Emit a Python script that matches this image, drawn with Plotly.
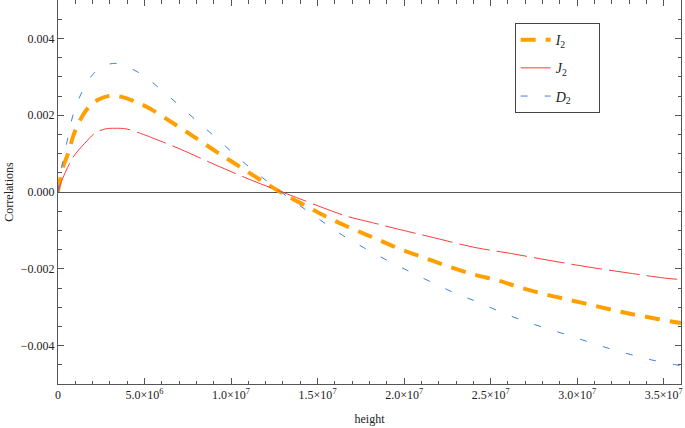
import plotly.graph_objects as go

# values
x_I2 = [0, 0.05e6, 0.3e6, 0.59e6, 0.97e6, 1.65e6, 2.32e6, 3.1e6, 3.97e6, 4.45e6, 5.12e6,
        6.66e6, 8.02e6, 9.18e6, 10.43e6, 11.68e6, 12.94e6, 14.29e6, 15.64e6, 16.99e6,
        18.34e6, 19.69e6, 21.14e6, 22.5e6, 24.04e6, 25.39e6, 26.74e6, 28.19e6, 29.64e6,
        31.08e6, 32.53e6, 33.98e6, 35.81e6, 36.0e6]
I2 = [0, 0.000145, 0.000665, 0.00101, 0.00157, 0.00214, 0.0024, 0.00251, 0.00244, 0.00235,
      0.00222, 0.00179, 0.00139, 0.00104, 0.00068, 0.00032, -0.000026, -0.000356, -0.000675,
      -0.000953, -0.00121, -0.00147, -0.00171, -0.00193, -0.00215, -0.0023, -0.00249,
      -0.00267, -0.00282, -0.00297, -0.00312, -0.00325, -0.0034, -0.00341]

x_J2 = [0, 0.2e6, 0.68e6, 0.97e6, 1.55e6, 2.13e6, 2.71e6, 3.29e6, 3.97e6, 4.93e6, 5.51e6,
        7.05e6, 9.08e6, 11.11e6, 12.84e6, 13.61e6, 15.35e6, 16.71e6, 17.86e6, 19.6e6,
        21.72e6, 24.04e6, 26.16e6, 28.38e6, 30.6e6, 32.83e6, 35.04e6, 36.0e6]
J2 = [0, 0.000275, 0.000753, 0.00097, 0.00127, 0.00153, 0.00164, 0.00166, 0.00164, 0.0015,
      0.0014, 0.00112, 0.00071, 0.00032, 0.000016, -0.000114, -0.000416, -0.000634,
      -0.000764, -0.000961, -0.00119, -0.00144, -0.0016, -0.00178, -0.00195, -0.0021,
      -0.00224, -0.00228]

x_D2 = [0, 0.24e6, 0.585e6, 0.87e6, 1.45e6, 2.23e6, 3.29e6, 4.74e6, 5.94e6, 7.05e6, 8.17e6,
        9.27e6, 10.37e6, 11.49e6, 12.65e6, 13.9e6, 15.12e6, 16.42e6, 17.67e6, 18.98e6,
        20.27e6, 21.63e6, 22.98e6, 24.33e6, 25.77e6, 27.13e6, 28.58e6, 30.02e6, 31.37e6,
        32.82e6, 34.27e6, 35.71e6, 36.0e6]
D2 = [0, 0.00071, 0.00144, 0.00201, 0.00266, 0.00316, 0.00335, 0.00309, 0.00267, 0.00224,
      0.00179, 0.00136, 0.00091, 0.00049, 0.000078, -0.00033, -0.00072, -0.00112, -0.00145,
      -0.00177, -0.00206, -0.00236, -0.00264, -0.00288, -0.00316, -0.00339, -0.0036,
      -0.00381, -0.00401, -0.0042, -0.00437, -0.0045, -0.00453]

x_ticks = [0, 5e6, 1e7, 1.5e7, 2e7, 2.5e7, 3e7, 3.5e7]
x_ticktext = ["0", "5.0×10<sup>6</sup>", "1.0×10<sup>7</sup>", "1.5×10<sup>7</sup>",
              "2.0×10<sup>7</sup>", "2.5×10<sup>7</sup>", "3.0×10<sup>7</sup>",
              "3.5×10<sup>7</sup>"]
y_ticks = [-0.004, -0.002, 0.0, 0.002, 0.004]
y_ticktext = ["\u22120.004", "\u22120.002", "0.000", "0.002", "0.004"]

FONT = "Liberation Serif"
PAD = "&nbsp;" * 6

fig = go.Figure()

fig.add_trace(go.Scatter(x=x_I2, y=I2, mode="lines", name="<i>I</i><sub>2</sub>" + PAD,
                         legendgroup="I2",
                         line=dict(color="#FF9F00", width=4, dash="15px,10px", shape="spline")))
fig.add_trace(go.Scatter(x=x_J2, y=J2, mode="lines", name="<i>J</i><sub>2</sub>" + PAD,
                         legendgroup="J2",
                         line=dict(color="#FF3B3B", width=1, dash="31px,7px", shape="spline")))
fig.add_trace(go.Scatter(x=x_D2, y=D2, mode="lines", name="<i>D</i><sub>2</sub>" + PAD,
                         legendgroup="D2",
                         line=dict(color="#3C82E6", width=1, dash="7px,17px", shape="spline")))

axis_common = dict(
    showline=True, linecolor="#555", linewidth=1, mirror="ticks",
    ticks="inside", ticklen=6, tickcolor="#555", showgrid=False, automargin=False,
    tickfont=dict(family=FONT, size=12, color="#222"),
)

fig.update_xaxes(
    range=[0, 3.6e7], tickvals=x_ticks, ticktext=x_ticktext, zeroline=False,
    minor=dict(ticks="inside", dtick=1e6, tick0=0, ticklen=3.5, tickcolor="#555", showgrid=False),
    title=dict(text="height", font=dict(family=FONT, size=12, color="#222"), standoff=13),
    **axis_common,
)
fig.update_yaxes(
    range=[-0.005, 0.005], tickvals=y_ticks, ticktext=y_ticktext,
    zeroline=True, zerolinecolor="#555", zerolinewidth=1,
    minor=dict(ticks="inside", dtick=0.0005, tick0=0, ticklen=3.5, tickcolor="#555", showgrid=False),
    title=dict(text="Correlations", font=dict(family=FONT, size=12, color="#222"), standoff=4),
    **axis_common,
)

fig.update_layout(
    width=685, height=428,
    margin=dict(l=58, r=4, t=0, b=44),
    plot_bgcolor="white", paper_bgcolor="white",
    legend=dict(x=0.733, y=0.94, xanchor="left", yanchor="top",
                bordercolor="#444", borderwidth=1, bgcolor="white",
                font=dict(family=FONT, size=14, color="#222"),
                tracegroupgap=7),
)

# drop the browser's default body margin so the figure sits at the page corner
fig.write_html("out.html", config={"displayModeBar": False},
               post_script="document.body.style.margin='0';")
